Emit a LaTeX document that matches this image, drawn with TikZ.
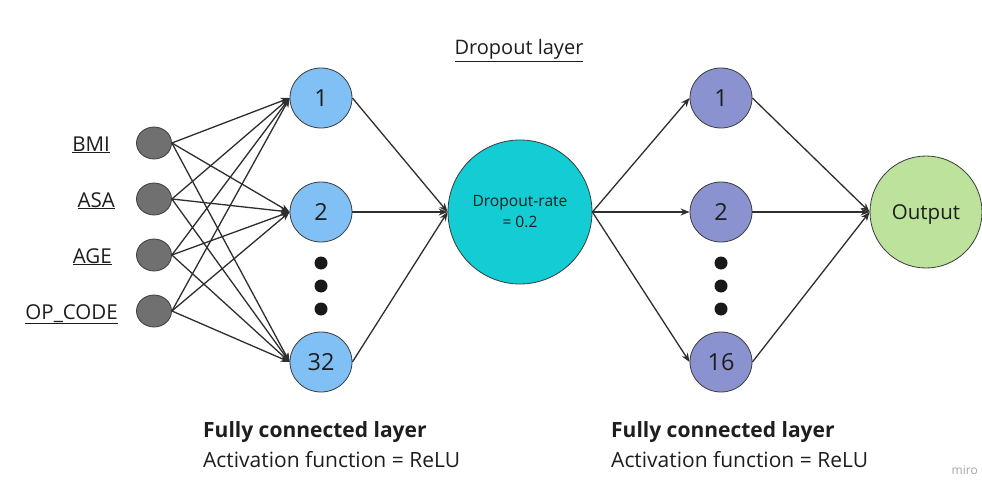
\documentclass[tikz,border=0pt]{standalone}
\usepackage{fontspec}
\setmainfont{Open Sans}
\usetikzlibrary{shapes.geometric,arrows.meta}
\definecolor{inpfill}{HTML}{707070}
\definecolor{hidA}{HTML}{80C0F4}
\definecolor{dropc}{HTML}{14CCD3}
\definecolor{hidB}{HTML}{8A93D0}
\definecolor{outc}{HTML}{BCE29C}
\definecolor{edgec}{HTML}{2E2E2E}
\definecolor{ringc}{HTML}{3C3C3C}
\definecolor{txtc}{HTML}{1E1E1E}
\tikzset{
  neuron/.style={ellipse, draw=ringc, line width=0.8pt, inner sep=0pt, text=txtc},
  inp/.style={neuron, fill=inpfill, minimum width=35pt, minimum height=32pt},
  hida/.style={neuron, fill=hidA, minimum width=62pt, minimum height=60pt, font=\fontsize{23.5}{26}\selectfont},
  hidb/.style={neuron, fill=hidB, minimum width=62pt, minimum height=60pt, font=\fontsize{23.5}{26}\selectfont},
  dropnode/.style={neuron, fill=dropc, minimum size=144pt, font=\fontsize{15.6}{21}\selectfont, align=center},
  outnode/.style={neuron, fill=outc, minimum size=112pt, font=\fontsize{20.5}{24}\selectfont, text depth=0pt},
  dotnode/.style={circle, fill=black!90, minimum size=13pt, inner sep=0pt},
  lbl/.style={font=\fontsize{20.5}{22}\selectfont, text=txtc, inner sep=0pt},
  caption/.style={anchor=base west, inner sep=0pt, text=txtc, font=\fontsize{21}{24}\selectfont},
  wire/.style={draw=edgec, line width=1.3pt, -{Stealth[length=9pt,width=7pt]}},
}
\begin{document}
\begin{tikzpicture}[x=1pt,y=-1pt]
\useasboundingbox[fill=white] (0,0) rectangle (982,495);

% input features
\node[inp] (i1) at (154,143) {};
\node[inp] (i2) at (154,199) {};
\node[inp] (i3) at (154,255) {};
\node[inp] (i4) at (154,311) {};
\node[lbl, anchor=base east] (l1) at (110,151) {\underline{BMI}};
\node[lbl, anchor=base east] (l2) at (115,207) {\underline{ASA}};
\node[lbl, anchor=base east] (l3) at (112,263) {\underline{AGE}};
\node[lbl, anchor=base east] (l4) at (118,319) {\underline{OP\_CODE}};

% first fully connected layer
\node[hida] (a1) at (321,98) {1};
\node[hida] (a2) at (321,212) {2};
\node[hida] (a3) at (321,362) {32};
\node[dotnode] (ad1) at (321,263) {};
\node[dotnode] (ad2) at (321,286) {};
\node[dotnode] (ad3) at (321,309) {};

% dropout
\node[dropnode] (d) at (520,212) {Dropout-rate\\= 0.2};
\node[lbl, font=\fontsize{20}{22}\selectfont, anchor=base] (dt) at (519,55) {\underline{Dropout layer}};

% second fully connected layer
\node[hidb] (b1) at (721,98) {1};
\node[hidb] (b2) at (721,212) {2};
\node[hidb] (b3) at (721,362) {16};
\node[dotnode] (bd1) at (721,263) {};
\node[dotnode] (bd2) at (721,286) {};
\node[dotnode] (bd3) at (721,309) {};

% output
\node[outnode] (o) at (926,212) {Output};

% connections
\foreach \s in {i1,i2,i3,i4}
  \foreach \t in {a1,a2,a3}
    \draw[wire] (\s.east) -- (\t.west);
\foreach \s in {a1,a2,a3}
  \draw[wire] (\s.east) -- (d.west);
\foreach \t in {b1,b2,b3}
  \draw[wire] (d.east) -- (\t.west);
\foreach \s in {b1,b2,b3}
  \draw[wire] (\s.east) -- (o.west);

% layer captions
\node[caption, font=\fontsize{21}{24}\bfseries\selectfont] (c1) at (203,437) {Fully connected layer};
\node[caption] (c2) at (203,467) {Activation function = ReLU};
\node[caption, font=\fontsize{21}{24}\bfseries\selectfont] (c3) at (611,437) {Fully connected layer};
\node[caption] (c4) at (611,467) {Activation function = ReLU};
\node[anchor=base east, inner sep=0pt, font=\fontsize{12}{14}\selectfont, text=black!35] (m) at (978,474) {miro};
\end{tikzpicture}
\end{document}
